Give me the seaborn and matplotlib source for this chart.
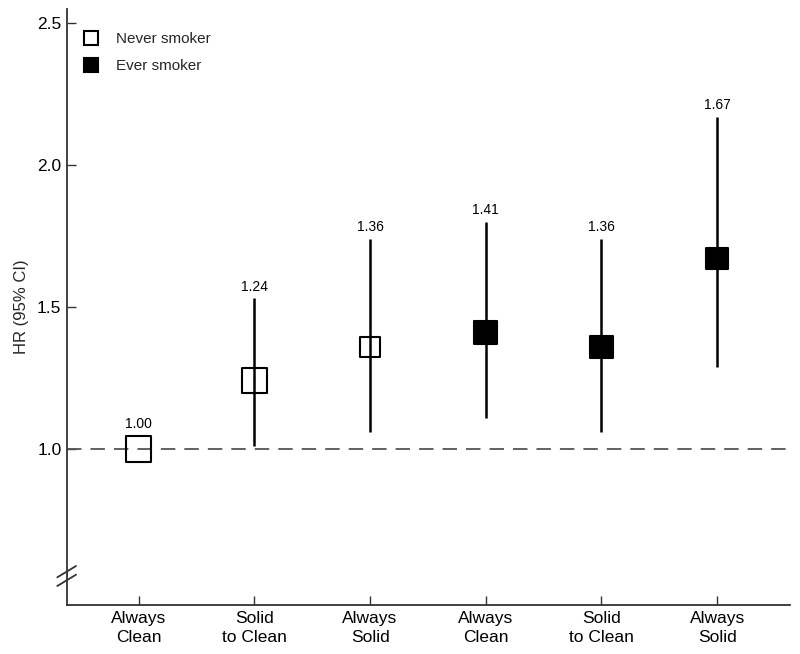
import numpy as np
import pandas as pd
import matplotlib
matplotlib.use("Agg")
import matplotlib.pyplot as plt
from matplotlib.lines import Line2D
import seaborn as sns

# data
categories = ["Always\nClean", "Solid\nto Clean", "Always\nSolid",
              "Always\nClean", "Solid\nto Clean", "Always\nSolid"]
smoking = ["Never smoker"] * 3 + ["Ever smoker"] * 3
hr = [1.00, 1.24, 1.36, 1.41, 1.36, 1.67]
ci_low = [1.00, 1.01, 1.06, 1.11, 1.06, 1.29]
ci_high = [1.00, 1.53, 1.74, 1.80, 1.74, 2.17]
y_ticks = [1.0, 1.5, 2.0, 2.5]

# marker side lengths (points), as drawn in the original
marker_pt = [18.3, 18.0, 14.7, 16.8, 16.1, 15.4]

sns.set_theme(style="white")
plt.rcParams["font.family"] = ["Liberation Sans", "DejaVu Sans"]

df = pd.DataFrame({
    "pos": np.arange(len(categories)),
    "hr": hr,
    "lo": ci_low,
    "hi": ci_high,
    "group": smoking,
})

fig = plt.figure(figsize=(8, 6.54), dpi=100)
ax = fig.add_axes([0.08375, 0.0749, 0.90375, 0.9113])

# reference line
ax.axhline(1.0, color="#555555", lw=1.3, dashes=(8, 5), zorder=1)

# markers
sns.scatterplot(
    data=df, x="pos", y="hr", hue="group",
    palette={"Never smoker": "white", "Ever smoker": "black"},
    marker="s", s=np.array(marker_pt) ** 2,
    edgecolor="black", linewidth=1.5, legend=False, ax=ax, zorder=2,
)
# hollow squares: let the CI line show through
coll = ax.collections[-1]
fc = [(1, 1, 1, 0) if g == "Never smoker" else (0, 0, 0, 1) for g in df["group"]]
coll.set_facecolors(fc)

# confidence intervals
ax.vlines(df["pos"], df["lo"], df["hi"], color="black", lw=1.8, zorder=3)

# value labels
for x, est, lo, hi, ms in zip(df["pos"], df["hr"], df["lo"], df["hi"], marker_pt):
    off = 3.5 if hi > est else ms / 2 + 3.5
    ax.annotate(f"{est:.2f}", (x, hi), xytext=(0, off), textcoords="offset points",
                ha="center", va="bottom", fontsize=10, color="black")

ax.set_xlim(-0.62, 5.63)
ax.set_ylim(0.451, 2.549)
ax.set_xticks(df["pos"])
ax.set_xticklabels(categories, fontsize=12.5, linespacing=1.4)
ax.set_yticks(y_ticks)
ax.set_yticklabels([f"{t:.1f}" for t in y_ticks], fontsize=12.5)
ax.set_xlabel("")
ax.set_ylabel("HR (95% CI)", fontsize=12, labelpad=6)

ax.tick_params(axis="both", direction="in", length=6.5, width=1.0,
               color="#333333", labelcolor="black", pad=4,
               left=True, bottom=True)
for side in ["top", "right"]:
    ax.spines[side].set_visible(False)
for side in ["left", "bottom"]:
    ax.spines[side].set_color("#333333")
    ax.spines[side].set_linewidth(1.3)

# axis break marks
for y0 in [0.0465, 0.0319]:
    ax.plot([-0.0134, 0.0125], [y0, y0 + 0.019], transform=ax.transAxes,
            color="#333333", lw=1.3, clip_on=False)

handles = [
    Line2D([], [], marker="s", ls="none", markersize=10, markerfacecolor="white",
           markeredgecolor="black", markeredgewidth=1.5),
    Line2D([], [], marker="s", ls="none", markersize=10, markerfacecolor="black",
           markeredgecolor="black", markeredgewidth=1.5),
]
ax.legend(handles, ["Never smoker", "Ever smoker"], loc="upper left",
          bbox_to_anchor=(0.004, 0.984), frameon=False, fontsize=11,
          handletextpad=1.1, labelspacing=0.85, handlelength=1.0)

fig.savefig("out.png", dpi=100, facecolor="white")
